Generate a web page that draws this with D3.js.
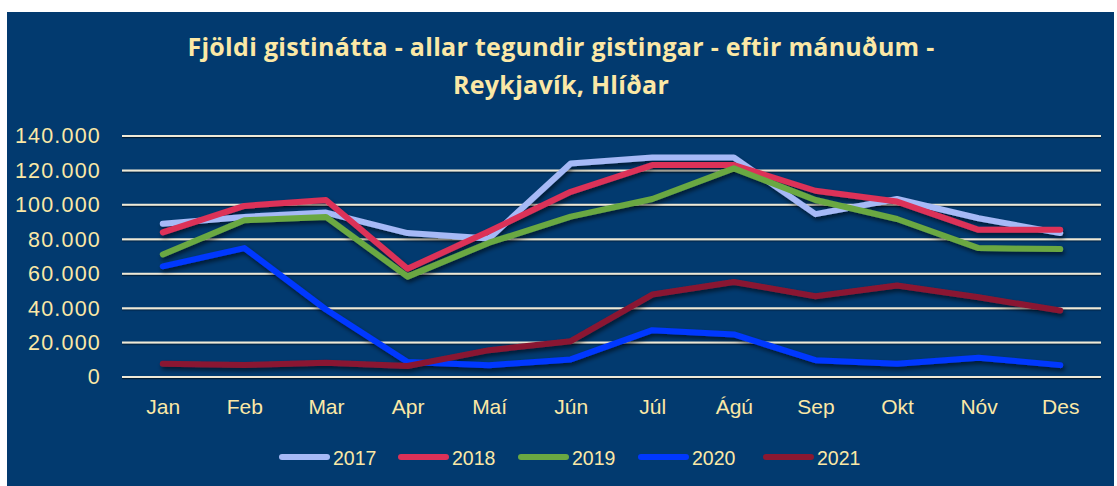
<!DOCTYPE html>
<html><head><meta charset="utf-8">
<script src="https://cdn.jsdelivr.net/npm/d3@7"></script>
<style>body{margin:0;background:#fff}svg{display:block}</style>
</head><body><div id="c"></div>
<script>
const months = ["Jan","Feb","Mar","Apr","Maí","Jún","Júl","Ágú","Sep","Okt","Nóv","Des"];
const years = ["2017","2018","2019","2020","2021"];
const v2017 = [89000,93000,95500,83600,80500,124000,127500,127500,94600,103400,92200,83600];
const v2018 = [84000,99400,102800,62900,84700,107600,123100,123100,108200,101900,85500,85500];
const v2019 = [71200,91100,93000,58300,78000,93200,103400,121200,102800,91800,74900,74300];
const v2020 = [64300,74900,39200,8700,6800,10200,27200,24700,9800,7700,11200,6900];
const v2021 = [7700,6900,8300,6400,15600,20800,47900,55200,46900,53200,46300,38600];
const yTicks = [0,20000,40000,60000,80000,100000,120000,140000];
const colors = ["#a6b9f6","#dc3158","#6aa842","#0038ff","#8a1831"];
const series = [v2017,v2018,v2019,v2020,v2021];

const W=1117,H=486;
const svg=d3.select("#c").append("svg").attr("width",W).attr("height",H);
const defs=svg.append("defs");
const f=defs.append("filter").attr("id","sh").attr("x","-10%").attr("y","-10%").attr("width","120%").attr("height","130%");
f.append("feDropShadow").attr("dx",1.5).attr("dy",3).attr("stdDeviation",2).attr("flood-color","#000").attr("flood-opacity",0.55);
const g2=defs.append("filter").attr("id","gs").attr("x","0").attr("y","-200%").attr("width","100%").attr("height","500%");
g2.append("feDropShadow").attr("dx",0).attr("dy",1.2).attr("stdDeviation",0.6).attr("flood-color","#000").attr("flood-opacity",0.5);

svg.append("rect").attr("x",7).attr("y",12).attr("width",1107).attr("height",H-12).attr("fill","#023a6f");

const txt="#fbe8a6";
const title=svg.append("text").attr("text-anchor","middle").attr("fill",txt)
  .style("font-family","'Open Sans', Lato, sans-serif").style("font-weight","bold").style("font-size","25px")
  .style("letter-spacing","0.3px");
title.append("tspan").attr("x",561).attr("y",56).text("Fjöldi gistinátta - allar tegundir gistingar - eftir mánuðum -");
title.append("tspan").attr("x",561).attr("y",94).text("Reykjavík, Hlíðar");

const x=d3.scalePoint().domain(months).range([122,1101]).padding(0.5);
const y=d3.scaleLinear().domain([0,140000]).range([377,136]);

const grid=svg.append("g").attr("filter","url(#gs)");
grid.selectAll("line").data(yTicks).join("line")
  .attr("x1",122).attr("x2",1101).attr("y1",d=>y(d)).attr("y2",d=>y(d))
  .attr("stroke","#efe9d6").attr("stroke-width",2);

const axFont="Liberation Sans, Arial, sans-serif";
const fmt=d=>d3.format(",")(d).replace(/,/g,".");
const yAxis=svg.append("g").attr("transform","translate(101,0)")
  .call(d3.axisLeft(y).tickValues(yTicks).tickFormat(fmt).tickSize(0).tickPadding(0));
yAxis.select(".domain").remove();
yAxis.selectAll("text").attr("fill",txt).style("font-family",axFont).style("font-size","21.5px").style("letter-spacing","1.2px");

const xAxis=svg.append("g").attr("transform","translate(0,398)")
  .call(d3.axisBottom(x).tickSize(0).tickPadding(0));
xAxis.select(".domain").remove();
xAxis.selectAll("text").attr("fill",txt).attr("dy","0.75em").style("font-family",axFont).style("font-size","21px");

const line=d3.line().x((d,i)=>x(months[i])).y(d=>y(d));
const lg=svg.append("g").attr("filter","url(#sh)");
series.forEach((s,k)=>{
  lg.append("path").attr("d",line(s)).attr("fill","none").attr("stroke",colors[k])
    .attr("stroke-width",6).attr("stroke-linejoin","round").attr("stroke-linecap","round");
});

const legX=[279,398,518,638,763];
const leg=svg.append("g");
years.forEach((yr,k)=>{
  leg.append("line").attr("x1",legX[k]+3).attr("x2",legX[k]+48).attr("y1",457).attr("y2",457)
    .attr("stroke",colors[k]).attr("stroke-width",6).attr("stroke-linecap","round");
  leg.append("text").attr("x",legX[k]+54).attr("y",465).attr("fill",txt)
    .style("font-family",axFont).style("font-size","19.5px").text(yr);
});
</script></body></html>
